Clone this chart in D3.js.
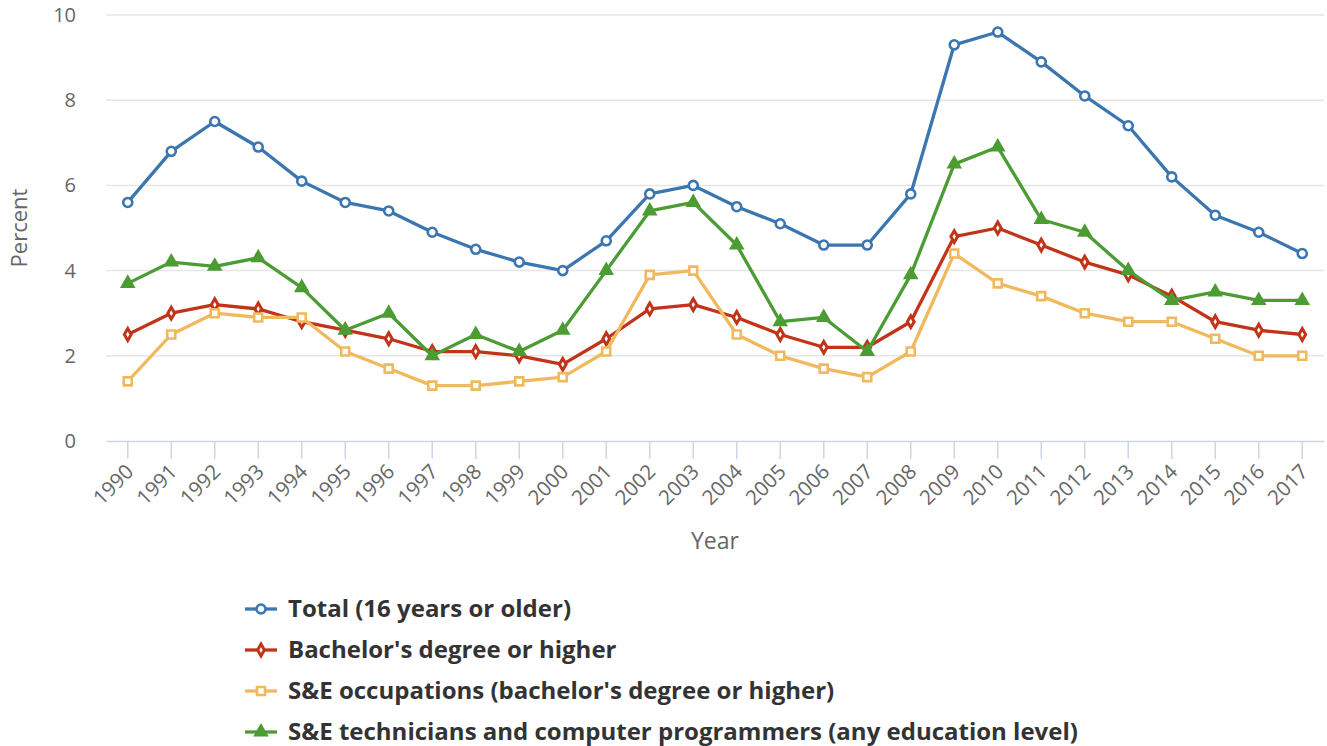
<!DOCTYPE html>
<html lang="en">
<head>
  <meta charset="UTF-8">
  <title>Unemployment rates</title>
  <script src="https://d3js.org/d3.v7.min.js"></script>
  <style>
    body { margin: 0; background: #fff; font-family: "Open Sans", sans-serif; }
  </style>
</head>
<body>
  <div id="chart"></div>
  <script>
    const years = d3.range(1990, 2018).map(String);
    const total = [5.6, 6.8, 7.5, 6.9, 6.1, 5.6, 5.4, 4.9, 4.5, 4.2, 4.0, 4.7, 5.8, 6.0, 5.5, 5.1, 4.6, 4.6, 5.8, 9.3, 9.6, 8.9, 8.1, 7.4, 6.2, 5.3, 4.9, 4.4];
    const bachelors = [2.5, 3.0, 3.2, 3.1, 2.8, 2.6, 2.4, 2.1, 2.1, 2.0, 1.8, 2.4, 3.1, 3.2, 2.9, 2.5, 2.2, 2.2, 2.8, 4.8, 5.0, 4.6, 4.2, 3.9, 3.4, 2.8, 2.6, 2.5];
    const seOccupations = [1.4, 2.5, 3.0, 2.9, 2.9, 2.1, 1.7, 1.3, 1.3, 1.4, 1.5, 2.1, 3.9, 4.0, 2.5, 2.0, 1.7, 1.5, 2.1, 4.4, 3.7, 3.4, 3.0, 2.8, 2.8, 2.4, 2.0, 2.0];
    const seTechnicians = [3.7, 4.2, 4.1, 4.3, 3.6, 2.6, 3.0, 2.0, 2.5, 2.1, 2.6, 4.0, 5.4, 5.6, 4.6, 2.8, 2.9, 2.1, 3.9, 6.5, 6.9, 5.2, 4.9, 4.0, 3.3, 3.5, 3.3, 3.3];
    const yTicks = [0, 2, 4, 6, 8, 10];

    const series = [
      { name: "Total (16 years or older)", values: total, color: "#3b76b0", symbol: d3.symbolCircle },
      { name: "Bachelor's degree or higher", values: bachelors, color: "#c23419", symbol: d3.symbolDiamond },
      { name: "S&E occupations (bachelor's degree or higher)", values: seOccupations, color: "#f1b95d", symbol: d3.symbolSquare },
      { name: "S&E technicians and computer programmers (any education level)", values: seTechnicians, color: "#4c9c34", symbol: d3.symbolTriangle }
    ];

    const W = 1327, H = 746;
    const plot = { left: 106, right: 1324, top: 15, bottom: 441 };

    const svg = d3.select("#chart").append("svg")
      .attr("width", W).attr("height", H);

    const x = d3.scaleBand().domain(years).range([plot.left, plot.right]);
    const y = d3.scaleLinear().domain([0, 10]).range([plot.bottom, plot.top]);
    const cx = d => x(d) + x.bandwidth() / 2;

    // gridlines
    svg.append("g").selectAll("line")
      .data(yTicks.filter(t => t > 0))
      .enter().append("line")
      .attr("x1", plot.left).attr("x2", plot.right)
      .attr("y1", d => y(d)).attr("y2", d => y(d))
      .attr("stroke", "#e6e6e6").attr("stroke-width", 1.5);

    // y axis labels
    const yAxis = svg.append("g")
      .attr("transform", `translate(${plot.left},0)`)
      .call(d3.axisLeft(y).tickValues(yTicks).tickSize(0).tickPadding(30));
    yAxis.select(".domain").remove();
    yAxis.selectAll("text")
      .attr("fill", "#666").style("font-size", "20px").style("font-family", "Open Sans");

    // x axis
    const xAxis = svg.append("g")
      .attr("transform", `translate(0,${plot.bottom})`)
      .call(d3.axisBottom(x).tickSize(18).tickSizeOuter(0));
    xAxis.select(".domain").attr("stroke", "#ccd6eb").attr("stroke-width", 1.5);
    xAxis.selectAll(".tick line").attr("stroke", "#ccd6eb").attr("stroke-width", 1.5);
    xAxis.selectAll("text")
      .attr("fill", "#666").style("font-size", "20.5px").style("font-family", "Open Sans")
      .attr("text-anchor", "end")
      .attr("x", 0).attr("y", 0).attr("dy", "0.35em")
      .attr("transform", "translate(2,27) rotate(-45)");

    // axis titles
    svg.append("text")
      .attr("transform", `translate(27,${(plot.top + plot.bottom) / 2}) rotate(-90)`)
      .attr("text-anchor", "middle")
      .attr("fill", "#666").style("font-size", "22px")
      .text("Percent");
    svg.append("text")
      .attr("x", (plot.left + plot.right) / 2).attr("y", 549)
      .attr("text-anchor", "middle")
      .attr("fill", "#666").style("font-size", "23px")
      .text("Year");

    const line = d3.line().x((d, i) => cx(years[i])).y(d => y(d));

    function drawSymbol(g, s, px, py) {
      let size = 64, fill = "#fff", sw = 2.6;
      if (s.symbol === d3.symbolDiamond) { size = 40; sw = 3; }
      if (s.symbol === d3.symbolTriangle) { size = 64; fill = s.color; sw = 2; }
      g.append("path")
        .attr("d", d3.symbol().type(s.symbol).size(size)())
        .attr("transform", `translate(${px},${py})`)
        .attr("fill", fill)
        .attr("stroke", s.color)
        .attr("stroke-width", sw);
    }

    series.forEach(s => {
      const g = svg.append("g");
      g.append("path")
        .datum(s.values)
        .attr("d", line)
        .attr("fill", "none")
        .attr("stroke", s.color)
        .attr("stroke-width", 3.3)
        .attr("stroke-linejoin", "round");
      s.values.forEach((v, i) => drawSymbol(g, s, cx(years[i]), y(v)));
    });

    // legend
    const legend = svg.append("g").attr("transform", "translate(245,609)");
    series.forEach((s, i) => {
      const row = legend.append("g").attr("transform", `translate(0,${i * 41})`);
      row.append("line")
        .attr("x1", 0).attr("x2", 32).attr("y1", 0).attr("y2", 0)
        .attr("stroke", s.color).attr("stroke-width", 3.3);
      drawSymbol(row, s, 16, 0);
      row.append("text")
        .attr("x", 43).attr("y", 0).attr("dy", "0.35em")
        .attr("fill", "#333").style("font-size", "24px").style("font-weight", "bold")
        .text(s.name);
    });
  </script>
</body>
</html>
